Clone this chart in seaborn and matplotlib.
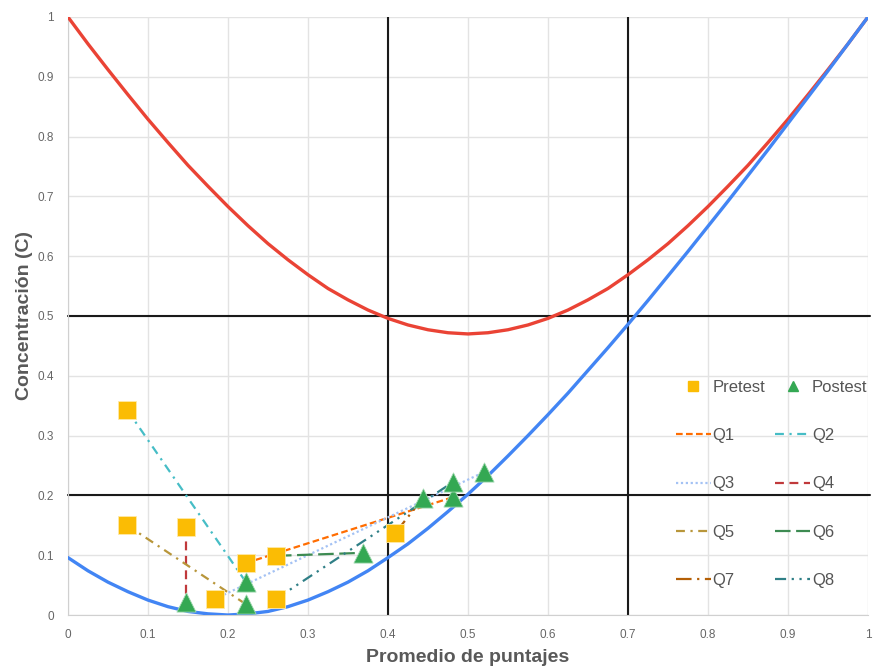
import numpy as np
import pandas as pd
import matplotlib.pyplot as plt
import seaborn as sns

# score grid used for the two boundary curves
score = [0.0, 0.025, 0.05, 0.075, 0.1, 0.125, 0.15, 0.175, 0.2, 0.225, 0.25,
         0.275, 0.3, 0.325, 0.35, 0.375, 0.4, 0.425, 0.45, 0.475, 0.5,
         0.525, 0.55, 0.575, 0.6, 0.625, 0.65, 0.675, 0.7, 0.725, 0.75,
         0.775, 0.8, 0.825, 0.85, 0.875, 0.9, 0.925, 0.95, 0.975, 1.0]
c_upper = [1.0, 0.955, 0.912, 0.870, 0.829, 0.790, 0.752, 0.717, 0.683, 0.651, 0.621,
           0.594, 0.569, 0.546, 0.527, 0.510, 0.496, 0.485, 0.477, 0.472, 0.470,
           0.472, 0.477, 0.485, 0.496, 0.510, 0.527, 0.546, 0.569, 0.594, 0.621,
           0.651, 0.683, 0.717, 0.752, 0.790, 0.829, 0.870, 0.912, 0.955, 1.0]
c_lower = [0.096, 0.074, 0.055, 0.039, 0.025, 0.014, 0.006, 0.002, 0.0, 0.002, 0.006,
           0.014, 0.025, 0.039, 0.055, 0.074, 0.096, 0.119, 0.145, 0.173, 0.202,
           0.233, 0.266, 0.300, 0.335, 0.371, 0.409, 0.447, 0.486, 0.526, 0.567,
           0.608, 0.650, 0.692, 0.735, 0.778, 0.822, 0.866, 0.910, 0.955, 1.0]

# one pre/post pair per question
questions = ["Q1", "Q2", "Q3", "Q4", "Q5", "Q6", "Q7", "Q8"]
pre_x = [0.2225, 0.074, 0.184, 0.1475, 0.074, 0.26, 0.409, 0.26]
pre_y = [0.087, 0.343, 0.027, 0.147, 0.150, 0.099, 0.137, 0.027]
post_x = [0.481, 0.2225, 0.52, 0.1475, 0.2225, 0.369, 0.444, 0.481]
post_y = [0.197, 0.055, 0.239, 0.022, 0.018, 0.104, 0.196, 0.222]

# reference lines
vlines = [0.4, 0.7]
hlines = [0.5, 0.2]

ticks = [0, 0.1, 0.2, 0.3, 0.4, 0.5, 0.6, 0.7, 0.8, 0.9, 1]
tick_labels = ["0", "0.1", "0.2", "0.3", "0.4", "0.5", "0.6", "0.7", "0.8", "0.9", "1"]

q_colors = {"Q1": "#FF6D01", "Q2": "#46BDC6", "Q3": "#A4C2F4", "Q4": "#C0393B",
            "Q5": "#B8963A", "Q6": "#3D8B52", "Q7": "#B45F06", "Q8": "#2F7F86"}
q_dashes = {"Q1": (3, 1.5), "Q2": (4, 2.5, 1, 2.5), "Q3": (1, 1.2), "Q4": (4, 2.5),
            "Q5": (4, 2.5, 1, 2.5), "Q6": (7, 2.5), "Q7": (7, 2.5, 1, 2.5),
            "Q8": (5, 2.5, 1, 2.5, 1, 2.5)}

sns.set_style("white")
plt.rcParams["font.family"] = ["Arial", "Liberation Sans", "DejaVu Sans"]

fig = plt.figure(figsize=(8.93, 6.68), dpi=100)
ax = fig.add_axes([0.0761, 0.0793, 0.8959, 0.8953])

curves = pd.DataFrame({"score": score, "upper": c_upper, "lower": c_lower})
sns.lineplot(data=curves, x="score", y="upper", color="#EA4335", lw=2.4, ax=ax, zorder=3)
sns.lineplot(data=curves, x="score", y="lower", color="#4285F4", lw=2.4, ax=ax, zorder=3)

for v in vlines:
    ax.axvline(v, color="#1a1a1a", lw=1.5, zorder=2)
for h in hlines:
    ax.axhline(h, color="#1a1a1a", lw=1.5, zorder=2, clip_on=False, xmax=1.003)

rows = []
for q, x0, y0, x1, y1 in zip(questions, pre_x, pre_y, post_x, post_y):
    rows.append({"q": q, "x": x0, "y": y0})
    rows.append({"q": q, "x": x1, "y": y1})
pairs = pd.DataFrame(rows)
sns.lineplot(data=pairs, x="x", y="y", hue="q", style="q", palette=q_colors,
             dashes=q_dashes, estimator=None, sort=False, units="q", lw=1.6,
             ax=ax, legend=False, zorder=4)

sns.scatterplot(x=pre_x, y=pre_y, marker="s", s=150, color="#FBBC04",
                edgecolor="#FFE9A8", linewidth=0.6, ax=ax, zorder=5)
sns.scatterplot(x=post_x, y=post_y, marker="^", s=190, color="#34A853",
                edgecolor="#9ED7AE", linewidth=0.6, ax=ax, zorder=6)

ax.set_xlim(0, 1)
ax.set_ylim(0, 1)
ax.set_xticks(ticks)
ax.set_xticklabels(tick_labels)
ax.set_yticks(ticks)
ax.set_yticklabels(tick_labels)
ax.tick_params(length=0, labelsize=8.5, labelcolor="#666666", pad=10)
ax.grid(True, color="#E3E3E3", lw=1)
ax.set_axisbelow(True)
for side in ["top", "right"]:
    ax.spines[side].set_visible(False)
for side in ["left", "bottom"]:
    ax.spines[side].set_color("#D0D0D0")

ax.set_xlabel("Promedio de puntajes", fontsize=14, fontweight="bold", color="#595959", labelpad=6)
ax.set_ylabel("Concentración (C)", fontsize=14, fontweight="bold", color="#595959", labelpad=3)

# legend: rows of (Pretest, Postest), (Q1, Q2) ... so fill columns accordingly
h_pre = plt.Line2D([], [], marker="s", ls="", color="#FBBC04", markersize=7)
h_post = plt.Line2D([], [], marker="^", ls="", color="#34A853", markersize=7)
h_q = {q: plt.Line2D([], [], color=q_colors[q], lw=1.6, dashes=q_dashes[q]) for q in questions}
handles = [h_pre, h_q["Q1"], h_q["Q3"], h_q["Q5"], h_q["Q7"],
           h_post, h_q["Q2"], h_q["Q4"], h_q["Q6"], h_q["Q8"]]
labels = ["Pretest", "Q1", "Q3", "Q5", "Q7", "Postest", "Q2", "Q4", "Q6", "Q8"]
leg = ax.legend(handles, labels, ncol=2, frameon=False, fontsize=12,
                loc="lower right", bbox_to_anchor=(1.018, 0.02),
                labelspacing=2.0, handlelength=2.1, handletextpad=0.1,
                columnspacing=0.6, labelcolor="#555555")

fig.savefig("out.png", dpi=100)
